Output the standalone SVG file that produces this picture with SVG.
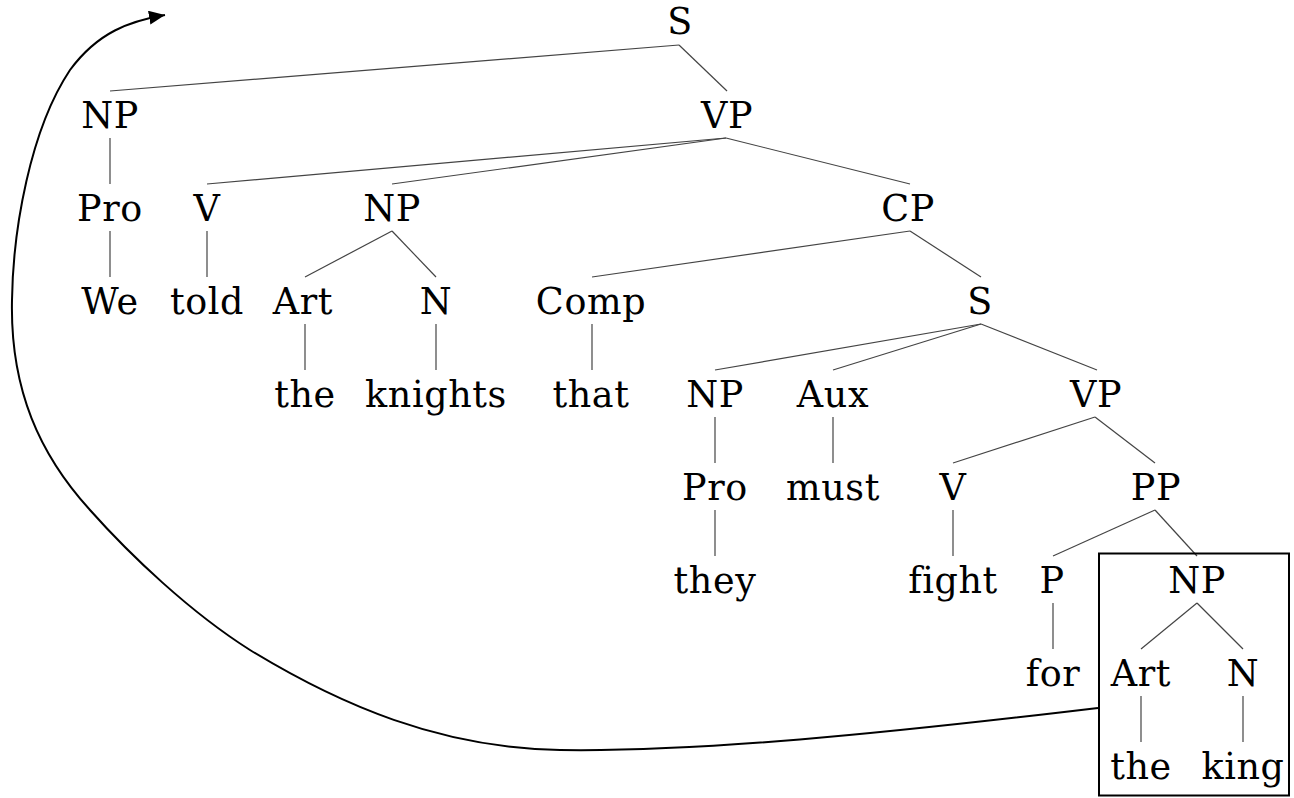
<svg xmlns="http://www.w3.org/2000/svg" width="1294" height="798" viewBox="0 0 1294 798">
<style>
text{font-family:"DejaVu Serif",serif;font-size:36.5px;fill:#000;text-anchor:middle;letter-spacing:0.6px}
.e line{stroke:#444;stroke-width:1.2}
</style>
<defs>
<marker id="ah" markerUnits="userSpaceOnUse" markerWidth="20" markerHeight="16" refX="16" refY="7" orient="auto">
<path d="M0,0 L16,7 L0,14 Z" fill="#000"/>
</marker>
</defs>
<rect width="1294" height="798" fill="#fff"/>
<g id="connectors" class="e">
<line x1="679" y1="45" x2="110" y2="91"/>
<line x1="679" y1="45" x2="727" y2="91"/>
<line x1="110" y1="138" x2="110" y2="184"/>
<line x1="726" y1="138" x2="207" y2="184"/>
<line x1="726" y1="138" x2="392" y2="184"/>
<line x1="726" y1="138" x2="910" y2="184"/>
<line x1="110" y1="231" x2="110" y2="277"/>
<line x1="207" y1="231" x2="207" y2="277"/>
<line x1="392" y1="231" x2="305" y2="277"/>
<line x1="392" y1="231" x2="436" y2="277"/>
<line x1="910" y1="231" x2="592" y2="277"/>
<line x1="910" y1="231" x2="981" y2="277"/>
<line x1="305" y1="324" x2="305" y2="370"/>
<line x1="436" y1="324" x2="436" y2="370"/>
<line x1="592" y1="324" x2="592" y2="370"/>
<line x1="981" y1="324" x2="715" y2="370"/>
<line x1="981" y1="324" x2="833" y2="370"/>
<line x1="981" y1="324" x2="1097" y2="370"/>
<line x1="715" y1="417" x2="715" y2="463"/>
<line x1="833" y1="417" x2="833" y2="463"/>
<line x1="1095" y1="417" x2="953" y2="463"/>
<line x1="1095" y1="417" x2="1155" y2="463"/>
<line x1="715" y1="510" x2="715" y2="556"/>
<line x1="953" y1="510" x2="953" y2="556"/>
<line x1="1155" y1="510" x2="1053" y2="556"/>
<line x1="1155" y1="510" x2="1197" y2="556"/>
<line x1="1053" y1="603" x2="1053" y2="649"/>
<line x1="1197" y1="603" x2="1141" y2="649"/>
<line x1="1197" y1="603" x2="1243" y2="649"/>
<line x1="1141" y1="696" x2="1141" y2="742"/>
<line x1="1243" y1="696" x2="1243" y2="742"/>
<path d="M1098,708 C880,734 700,752 560,750 C440,748 340,705 250,650 C190,612 130,555 90,510 C40,455 10,390 12,300 C13,230 30,130 70,70 C98,32 130,21 165,15" fill="none" stroke="#000" stroke-width="2" marker-end="url(#ah)"/>
</g>
<g id="n-S1"><text x="680" y="34">S</text></g>
<g id="n-NP1"><text x="110" y="128">NP</text></g>
<g id="n-VP1"><text x="727" y="128">VP</text></g>
<g id="n-Pro1"><text x="110" y="221">Pro</text></g>
<g id="n-V1"><text x="207" y="221">V</text></g>
<g id="n-NP2"><text x="392" y="221">NP</text></g>
<g id="n-CP"><text x="908" y="221">CP</text></g>
<g id="n-We"><text x="110" y="314">We</text></g>
<g id="n-told"><text x="207" y="314">told</text></g>
<g id="n-Art1"><text x="303" y="314">Art</text></g>
<g id="n-N1"><text x="436" y="314">N</text></g>
<g id="n-Comp"><text x="591" y="314">Comp</text></g>
<g id="n-S2"><text x="980" y="314">S</text></g>
<g id="n-the1"><text x="305" y="407">the</text></g>
<g id="n-knights"><text x="436" y="407">knights</text></g>
<g id="n-that"><text x="591" y="407">that</text></g>
<g id="n-NP3"><text x="715" y="407">NP</text></g>
<g id="n-Aux"><text x="833" y="407">Aux</text></g>
<g id="n-VP2"><text x="1096" y="407">VP</text></g>
<g id="n-Pro2"><text x="715" y="500">Pro</text></g>
<g id="n-must"><text x="833" y="500">must</text></g>
<g id="n-V2"><text x="953" y="500">V</text></g>
<g id="n-PP"><text x="1156" y="500">PP</text></g>
<g id="n-they"><text x="715" y="593">they</text></g>
<g id="n-fight"><text x="953" y="593">fight</text></g>
<g id="n-P"><text x="1052" y="593">P</text></g>
<g id="n-NP4"><text x="1197" y="593">NP</text></g>
<g id="n-for"><text x="1053" y="686">for</text></g>
<g id="n-Art2"><text x="1141" y="686">Art</text></g>
<g id="n-N2"><text x="1243" y="686">N</text></g>
<g id="n-the2"><text x="1141" y="779">the</text></g>
<g id="n-king"><text x="1243" y="779">king</text></g>
<g id="box"><rect x="1099" y="553.5" width="190" height="242" fill="none" stroke="#000" stroke-width="2"/></g>
</svg>
